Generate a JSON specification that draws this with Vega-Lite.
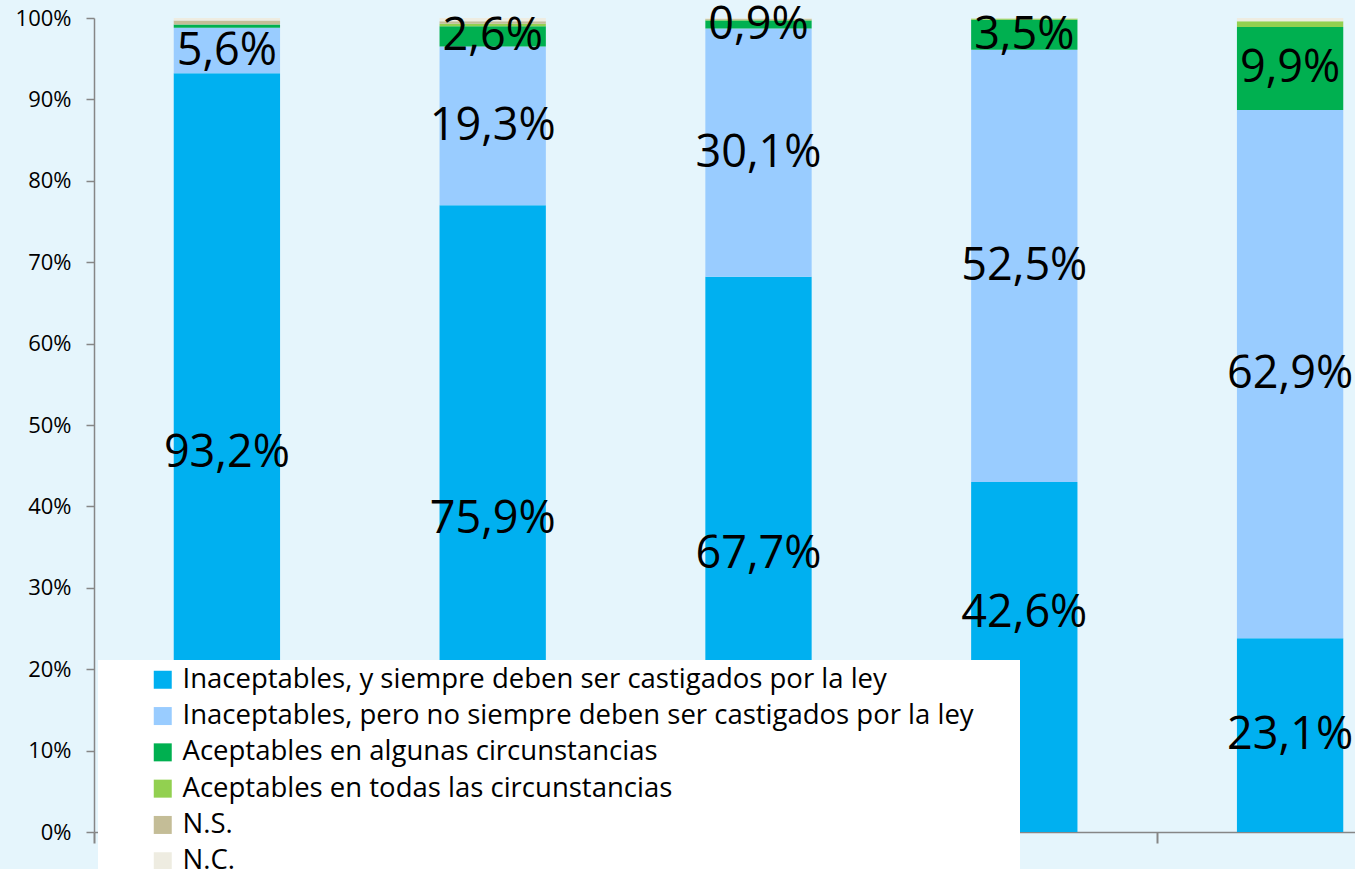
{
 "$schema": "https://vega.github.io/schema/vega-lite/v6.json",
 "width": 1329,
 "height": 814,
 "autosize": {"type": "none"},
 "padding": {"left": 94, "top": 18, "right": 0, "bottom": 37},
 "background": "#E5F5FC",
 "config": {"view": {"stroke": null}, "font": "Open Sans"},
 "data": {"values": [
  {"cat": "1", "seg": "Inaceptables, y siempre deben ser castigados por la ley", "o": 1, "v": 93.2, "label": "93,2%"},
  {"cat": "1", "seg": "Inaceptables, pero no siempre deben ser castigados por la ley", "o": 2, "v": 5.6, "label": "5,6%"},
  {"cat": "1", "seg": "Aceptables en algunas circunstancias", "o": 3, "v": 0.4, "label": ""},
  {"cat": "1", "seg": "Aceptables en todas las circunstancias", "o": 4, "v": 0.0, "label": ""},
  {"cat": "1", "seg": "N.S.", "o": 5, "v": 0.5, "label": ""},
  {"cat": "1", "seg": "N.C.", "o": 6, "v": 0.3, "label": ""},
  {"cat": "2", "seg": "Inaceptables, y siempre deben ser castigados por la ley", "o": 1, "v": 77.0, "label": "75,9%"},
  {"cat": "2", "seg": "Inaceptables, pero no siempre deben ser castigados por la ley", "o": 2, "v": 19.5, "label": "19,3%"},
  {"cat": "2", "seg": "Aceptables en algunas circunstancias", "o": 3, "v": 2.5, "label": "2,6%"},
  {"cat": "2", "seg": "Aceptables en todas las circunstancias", "o": 4, "v": 0.3, "label": ""},
  {"cat": "2", "seg": "N.S.", "o": 5, "v": 0.3, "label": ""},
  {"cat": "2", "seg": "N.C.", "o": 6, "v": 0.4, "label": ""},
  {"cat": "3", "seg": "Inaceptables, y siempre deben ser castigados por la ley", "o": 1, "v": 68.2, "label": "67,7%"},
  {"cat": "3", "seg": "Inaceptables, pero no siempre deben ser castigados por la ley", "o": 2, "v": 30.5, "label": "30,1%"},
  {"cat": "3", "seg": "Aceptables en algunas circunstancias", "o": 3, "v": 1.0, "label": "0,9%"},
  {"cat": "3", "seg": "Aceptables en todas las circunstancias", "o": 4, "v": 0.1, "label": ""},
  {"cat": "3", "seg": "N.S.", "o": 5, "v": 0.1, "label": ""},
  {"cat": "3", "seg": "N.C.", "o": 6, "v": 0.1, "label": ""},
  {"cat": "4", "seg": "Inaceptables, y siempre deben ser castigados por la ley", "o": 1, "v": 43.0, "label": "42,6%"},
  {"cat": "4", "seg": "Inaceptables, pero no siempre deben ser castigados por la ley", "o": 2, "v": 53.1, "label": "52,5%"},
  {"cat": "4", "seg": "Aceptables en algunas circunstancias", "o": 3, "v": 3.7, "label": "3,5%"},
  {"cat": "4", "seg": "Aceptables en todas las circunstancias", "o": 4, "v": 0.15, "label": ""},
  {"cat": "4", "seg": "N.S.", "o": 5, "v": 0.0, "label": ""},
  {"cat": "4", "seg": "N.C.", "o": 6, "v": 0.05, "label": ""},
  {"cat": "5", "seg": "Inaceptables, y siempre deben ser castigados por la ley", "o": 1, "v": 23.8, "label": "23,1%"},
  {"cat": "5", "seg": "Inaceptables, pero no siempre deben ser castigados por la ley", "o": 2, "v": 64.9, "label": "62,9%"},
  {"cat": "5", "seg": "Aceptables en algunas circunstancias", "o": 3, "v": 10.2, "label": "9,9%"},
  {"cat": "5", "seg": "Aceptables en todas las circunstancias", "o": 4, "v": 0.7, "label": ""},
  {"cat": "5", "seg": "N.S.", "o": 5, "v": 0.0, "label": ""},
  {"cat": "5", "seg": "N.C.", "o": 6, "v": 0.4, "label": ""}
 ]},
 "transform": [
  {"stack": "v", "groupby": ["cat"], "sort": [{"field": "o", "order": "ascending"}], "as": ["v0", "v1"]},
  {"calculate": "(datum.v0 + datum.v1) / 2", "as": "mid"}
 ],
 "encoding": {
  "x": {"field": "cat", "type": "nominal", "scale": {"paddingInner": 0, "paddingOuter": 0},
   "axis": {"title": null, "labels": false, "bandPosition": 0, "domainColor": "#868686", "domainWidth": 1.5, "tickColor": "#868686", "tickWidth": 2, "tickSize": 11}}
 },
 "layer": [
  {
   "mark": {"type": "bar", "width": {"band": 0.4}},
   "encoding": {
    "y": {"field": "v0", "type": "quantitative", "scale": {"domain": [0, 100], "nice": false},
     "axis": {"title": null, "values": [0, 10, 20, 30, 40, 50, 60, 70, 80, 90, 100], "labelExpr": "datum.value + '%'", "labelFontSize": 22, "labelColor": "black", "tickSize": 8, "labelPadding": 15, "domainColor": "#868686", "domainWidth": 1.5, "tickColor": "#868686", "tickWidth": 1.5, "grid": false}},
    "y2": {"field": "v1"},
    "color": {"field": "seg", "type": "nominal",
     "scale": {"domain": ["Inaceptables, y siempre deben ser castigados por la ley", "Inaceptables, pero no siempre deben ser castigados por la ley", "Aceptables en algunas circunstancias", "Aceptables en todas las circunstancias", "N.S.", "N.C."],
      "range": ["#00B0F0", "#99CCFF", "#00B050", "#92D050", "#C4BD97", "#EEECE1"]},
     "legend": {"orient": "none", "legendX": 4, "legendY": 642, "fillColor": "white", "padding": 6, "symbolOffset": 45, "symbolType": "square", "symbolSize": 324, "symbolStrokeWidth": 0, "labelFontSize": 27.5, "labelColor": "black", "labelLimit": 1000, "rowPadding": 7.3, "labelOffset": 6, "title": " ", "titleOrient": "right", "titlePadding": 40}}
   }
  },
  {
   "transform": [{"filter": "datum.label != '' && datum.label != '42,6%'"}],
   "mark": {"type": "text", "fontSize": 45, "baseline": "middle", "color": "black"},
   "encoding": {
    "y": {"field": "mid", "type": "quantitative"},
    "text": {"field": "label"}
   }
  },
  {
   "transform": [{"filter": "datum.label == '42,6%'"}],
   "mark": {"type": "text", "fontSize": 45, "baseline": "middle", "color": "black", "dy": -44},
   "encoding": {
    "y": {"field": "mid", "type": "quantitative"},
    "text": {"field": "label"}
   }
  }
 ]
}
